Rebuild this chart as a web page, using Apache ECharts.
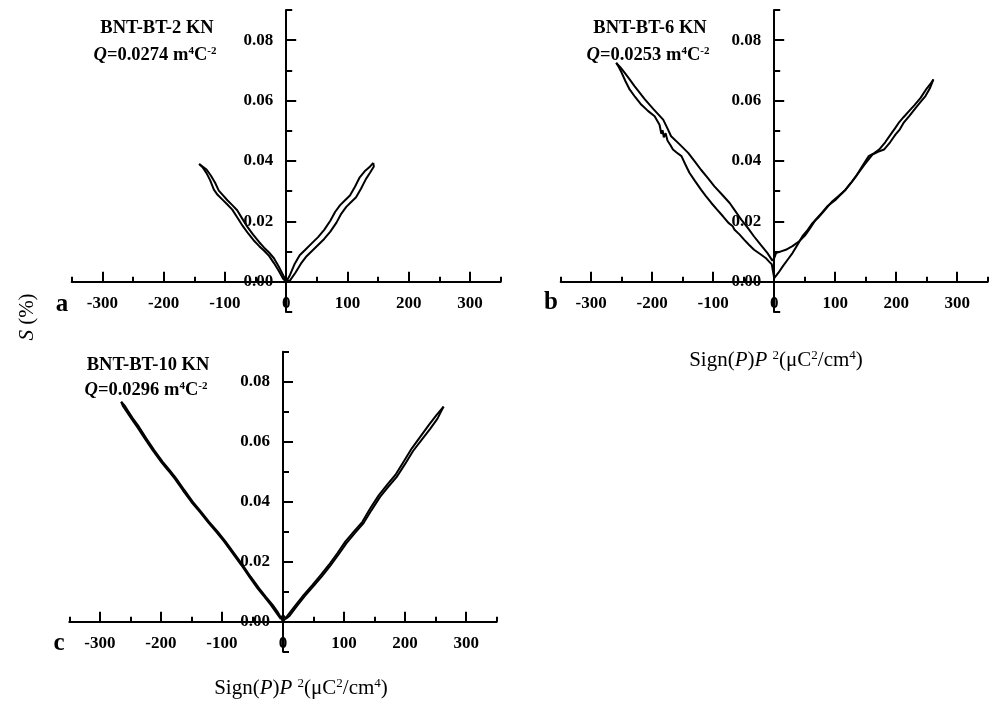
<!DOCTYPE html>
<html>
<head>
<meta charset="utf-8">
<title>BNT-BT strain vs Sign(P)P^2</title>
<script src="https://cdn.jsdelivr.net/npm/echarts@6/dist/echarts.min.js"></script>
<style>
  html, body { margin: 0; padding: 0; background: #fff; }
  #chart { width: 993px; height: 703px; }
</style>
</head>
<body>
<div id="chart"></div>
<script>
// tick / label values
const xLabelTicks = [-300, -200, -100, 0, 100, 200, 300]
const xMinorTicks = [-350, -250, -150, -50, 50, 150, 250, 350]
const yLabelTicks = [0, 0.02, 0.04, 0.06, 0.08]
const yMinorTicks = [-0.01, 0.01, 0.03, 0.05, 0.07, 0.09]

// panel titles
const sampleNames = ['BNT-BT-2 KN', 'BNT-BT-6 KN', 'BNT-BT-10 KN']
const qValues = ['0.0274', '0.0253', '0.0296']
const panelLetters = ['a', 'b', 'c']

// panel a: two branches of the S - Sign(P)P^2 loop
const aBranch1 = [[-142,0.0390],[-136,0.0378],[-130,0.0360],[-124,0.0336],[-118,0.0305],[-112,0.0288],[-104,0.0272],[-96,0.0256],[-88,0.0239],[-80,0.0214],[-71,0.0185],[-62,0.0160],[-52,0.0135],[-44,0.0118],[-36,0.0103],[-28,0.0086],[-20,0.0062],[-12,0.0036],[-5,0.0010],[0,0],[6,0.0022],[14,0.0060],[22,0.0088],[32,0.0108],[42,0.0128],[52,0.0148],[62,0.0172],[72,0.0202],[80,0.0232],[88,0.0254],[96,0.0270],[104,0.0286],[112,0.0314],[120,0.0346],[128,0.0366],[136,0.0380],[142,0.0394]]
const aBranch2 = [[-142,0.0390],[-130,0.0372],[-123,0.0352],[-116,0.0328],[-110,0.0302],[-103,0.0286],[-96,0.0270],[-88,0.0254],[-80,0.0237],[-72,0.0210],[-63,0.0181],[-54,0.0156],[-44,0.0131],[-36,0.0113],[-28,0.0097],[-20,0.0078],[-12,0.0050],[-5,0.0022],[0,0.0002],[6,0.0004],[15,0.0030],[24,0.0060],[32,0.0082],[42,0.0102],[52,0.0122],[62,0.0142],[72,0.0166],[82,0.0196],[90,0.0226],[98,0.0248],[106,0.0264],[114,0.0280],[122,0.0308],[130,0.0340],[137,0.0362],[143,0.0382],[142,0.0394]]

// panel b
const bBranch1 = [[-259,0.0725],[-252,0.0710],[-245,0.0692],[-237,0.0670],[-229,0.0648],[-220,0.0625],[-212,0.0604],[-198,0.0572],[-182,0.0537],[-176,0.0512],[-169,0.0482],[-155,0.0455],[-141,0.0427],[-130,0.0398],[-120,0.0371],[-109,0.0344],[-98,0.0316],[-86,0.0290],[-73,0.0261],[-64,0.0235],[-54,0.0206],[-43,0.0178],[-33,0.0150],[-22,0.0122],[-11,0.0095],[-3,0.0070],[0,0.0078],[3,0.0095],[10,0.0100],[19,0.0106],[30,0.0118],[41,0.0134],[50,0.0152],[57,0.0172],[68,0.0206],[78,0.0228],[87,0.0250],[101,0.0272],[117,0.0305],[126,0.0328],[134,0.0349],[145,0.0385],[155,0.0416],[164,0.0426],[172,0.0438],[182,0.0462],[191,0.0488],[198,0.0508],[204,0.0526],[212,0.0545],[221,0.0565],[230,0.0585],[240,0.0609],[250,0.0640],[257,0.0658],[261,0.0670]]
const bBranch2 = [[-259,0.0725],[-255,0.0712],[-250,0.0692],[-244,0.0665],[-237,0.0637],[-228,0.0612],[-218,0.0587],[-207,0.0566],[-196,0.0548],[-188,0.0520],[-185,0.0490],[-183,0.0502],[-181,0.0478],[-178,0.0492],[-175,0.0468],[-170,0.0452],[-166,0.0438],[-160,0.0428],[-152,0.0416],[-146,0.0390],[-139,0.0361],[-130,0.0334],[-120,0.0305],[-112,0.0284],[-103,0.0261],[-94,0.0240],[-84,0.0217],[-75,0.0195],[-68,0.0184],[-65,0.0172],[-57,0.0157],[-49,0.0139],[-41,0.0122],[-33,0.0106],[-23,0.0092],[-14,0.0079],[-8,0.0066],[-4,0.0058],[0,0.0012],[7,0.0030],[14,0.0051],[22,0.0073],[30,0.0095],[38,0.0122],[46,0.0150],[55,0.0172],[63,0.0195],[72,0.0212],[84,0.0240],[95,0.0266],[106,0.0285],[117,0.0305],[127,0.0330],[136,0.0355],[148,0.0388],[161,0.0421],[170,0.0430],[180,0.0438],[190,0.0462],[199,0.0488],[206,0.0505],[212,0.0526],[222,0.0550],[232,0.0576],[240,0.0596],[248,0.0615],[255,0.0640],[261,0.0670]]

// panel c
const cBranch1 = [[-265,0.0733],[-260,0.0722],[-255,0.0706],[-246,0.0678],[-236,0.0650],[-224,0.0611],[-211,0.0572],[-197,0.0533],[-186,0.0506],[-175,0.0478],[-162,0.0440],[-148,0.0400],[-134,0.0366],[-121,0.0333],[-107,0.0300],[-94,0.0267],[-80,0.0228],[-66,0.0189],[-53,0.0150],[-39,0.0111],[-28,0.0083],[-17,0.0056],[-8,0.0030],[-2,0.0008],[0,0],[8,0.0022],[21,0.0056],[34,0.0089],[48,0.0122],[62,0.0156],[75,0.0189],[89,0.0228],[102,0.0267],[116,0.0300],[130,0.0333],[143,0.0378],[157,0.0422],[170,0.0455],[184,0.0489],[198,0.0535],[211,0.0578],[225,0.0617],[239,0.0656],[251,0.0688],[263,0.0717]]
const cBranch2 = [[-265,0.0733],[-262,0.0718],[-256,0.0700],[-248,0.0676],[-238,0.0647],[-226,0.0609],[-213,0.0570],[-199,0.0531],[-188,0.0504],[-177,0.0476],[-164,0.0438],[-150,0.0399],[-136,0.0365],[-123,0.0332],[-109,0.0299],[-96,0.0266],[-82,0.0227],[-68,0.0188],[-55,0.0149],[-42,0.0112],[-31,0.0084],[-20,0.0056],[-11,0.0030],[-4,0.0010],[0,0.0022],[5,0.0010],[10,0.0018],[23,0.0053],[36,0.0086],[50,0.0119],[64,0.0152],[77,0.0185],[91,0.0224],[104,0.0262],[118,0.0296],[132,0.0329],[145,0.0372],[159,0.0416],[172,0.0449],[186,0.0482],[200,0.0526],[213,0.0569],[227,0.0606],[241,0.0643],[253,0.0677],[263,0.0717]]

const branches = [[aBranch1, aBranch2], [bBranch1, bBranch2], [cBranch1, cBranch2]]

const FONT = '"Liberation Serif", "Times New Roman", serif'

// layout of the three panels (px)
const panelBoxes = [
  { left: 71.7, top: 10, width: 429, height: 302 },
  { left: 560.7, top: 10, width: 427, height: 302 },
  { left: 69.3, top: 351.7, width: 427.4, height: 300 }
]
// where the text blocks of each panel sit
const titlePos = [[157, 28], [650, 28], [148, 365]]
const qPos = [[155, 55], [648, 55], [146, 390]]
const letterPos = [[62, 305], [551, 303], [59, 644]]

const chart = echarts.init(document.getElementById('chart'), null, { renderer: 'canvas' })

const grids = []
const xAxes = []
const yAxes = []
const series = []
const graphics = []

panelBoxes.forEach((box, i) => {
  grids.push({ left: box.left, top: box.top, width: box.width, height: box.height })

  // x axis sits at y = 0, i.e. 1/10 of the height above the grid bottom
  const xOff = -box.height * 0.1
  // major: line, labels, long ticks
  xAxes.push({
    type: 'value', gridIndex: i, min: -350, max: 350, position: 'bottom', offset: xOff,
    axisLine: { onZero: false, lineStyle: { color: '#000', width: 2 } },
    axisTick: { inside: true, length: 10, customValues: xLabelTicks, lineStyle: { color: '#000', width: 2 } },
    axisLabel: {
      customValues: xLabelTicks, margin: 13, color: '#000',
      fontFamily: FONT, fontWeight: 'bold', fontSize: 17,
      formatter: v => String(Math.round(v))
    },
    splitLine: { show: false }
  })
  // minor ticks every 50
  xAxes.push({
    type: 'value', gridIndex: i, min: -350, max: 350, position: 'bottom', offset: xOff,
    axisLine: { show: false, onZero: false },
    axisTick: { inside: true, length: 5, customValues: xMinorTicks, lineStyle: { color: '#000', width: 2 } },
    axisLabel: { show: false },
    splitLine: { show: false }
  })

  // y axis sits at x = 0, the middle of the grid
  const yOff = -box.width / 2
  yAxes.push({
    type: 'value', gridIndex: i, min: -0.01, max: 0.09, position: 'left', offset: yOff,
    axisLine: { show: true, onZero: false, lineStyle: { color: '#000', width: 2 } },
    axisTick: { show: true, inside: true, length: 10, customValues: yLabelTicks, lineStyle: { color: '#000', width: 2 } },
    axisLabel: {
      customValues: yLabelTicks, margin: 13, color: '#000',
      fontFamily: FONT, fontWeight: 'bold', fontSize: 17,
      formatter: v => v.toFixed(2)
    },
    splitLine: { show: false }
  })
  yAxes.push({
    type: 'value', gridIndex: i, min: -0.01, max: 0.09, position: 'left', offset: yOff,
    axisLine: { show: false, onZero: false },
    axisTick: { show: true, inside: true, length: 6, customValues: yMinorTicks, lineStyle: { color: '#000', width: 2 } },
    axisLabel: { show: false },
    splitLine: { show: false }
  })

  branches[i].forEach(data => {
    series.push({
      type: 'line', xAxisIndex: i * 2, yAxisIndex: i * 2,
      data: data, showSymbol: false, symbol: 'none', smooth: false,
      lineStyle: { color: '#000', width: 2 }, clip: false
    })
  })

  // panel title + Q value
  graphics.push({
    type: 'text', x: titlePos[i][0], y: titlePos[i][1],
    style: {
      text: sampleNames[i], fill: '#000', align: 'center', verticalAlign: 'middle',
      font: 'bold 18.5px ' + FONT
    }
  })
  graphics.push({
    type: 'text', x: qPos[i][0], y: qPos[i][1],
    style: {
      text: '{i|Q}{n|=' + qValues[i] + ' m}{s|4}{n|C}{s|-2}',
      fill: '#000', align: 'center', verticalAlign: 'middle',
      rich: {
        i: { fontFamily: FONT, fontWeight: 'bold', fontStyle: 'italic', fontSize: 18.5, fill: '#000' },
        n: { fontFamily: FONT, fontWeight: 'bold', fontSize: 18.5, fill: '#000' },
        s: { fontFamily: FONT, fontWeight: 'bold', fontSize: 11, fill: '#000', verticalAlign: 'top' }
      }
    }
  })
  graphics.push({
    type: 'text', x: letterPos[i][0], y: letterPos[i][1],
    style: {
      text: panelLetters[i], fill: '#000', align: 'center', verticalAlign: 'middle',
      font: 'bold 25px ' + FONT
    }
  })
})

// shared axis titles
const xTitleRich = {
  n: { fontFamily: FONT, fontSize: 21, fill: '#000' },
  i: { fontFamily: FONT, fontSize: 21, fontStyle: 'italic', fill: '#000' },
  s: { fontFamily: FONT, fontSize: 13, fill: '#000', verticalAlign: 'top' }
}
const xTitleText = '{n|Sign(}{i|P}{n|)}{i|P}{n| }{s|2}{n|(\u03bcC}{s|2}{n|/cm}{s|4}{n|)}'
graphics.push({
  type: 'text', x: 776, y: 360,
  style: { text: xTitleText, align: 'center', verticalAlign: 'middle', rich: xTitleRich }
})
graphics.push({
  type: 'text', x: 301, y: 688,
  style: { text: xTitleText, align: 'center', verticalAlign: 'middle', rich: xTitleRich }
})
graphics.push({
  type: 'text', x: 27, y: 317, rotation: Math.PI / 2,
  style: {
    text: '{i|S}{n| (%)}', align: 'center', verticalAlign: 'middle',
    rich: {
      i: { fontFamily: FONT, fontSize: 21, fontStyle: 'italic', fill: '#000' },
      n: { fontFamily: FONT, fontSize: 21, fill: '#000' }
    }
  }
})

chart.setOption({
  backgroundColor: '#fff',
  animation: false,
  grid: grids,
  xAxis: xAxes,
  yAxis: yAxes,
  series: series,
  graphic: graphics
})
</script>
</body>
</html>
